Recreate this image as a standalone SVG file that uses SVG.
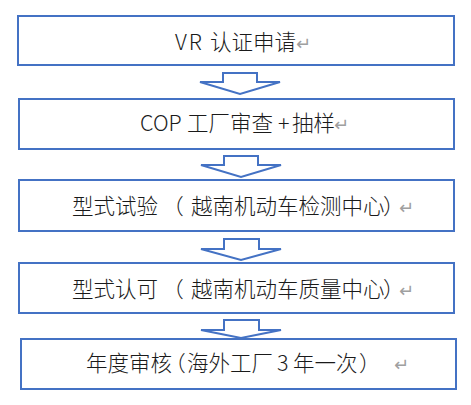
<svg xmlns="http://www.w3.org/2000/svg" width="471" height="405" viewBox="0 0 471 405">
<style>
.box{fill:#fff;stroke:#4472C4;stroke-width:2}
.arr{fill:#fff;stroke:#4472C4;stroke-width:2;stroke-linejoin:miter}
.t{font-family:"Noto Sans CJK SC","Noto Sans",sans-serif;font-size:21.5px;font-weight:300;fill:#1a1a1a}
.p{font-feature-settings:"halt"}
.rm{font-family:"DejaVu Sans",sans-serif;fill:#a0a0a0;font-size:18px;font-weight:400}
</style>
<rect width="471" height="405" fill="#fff"/>
<g id="connectors">
<polygon class="arr" points="223,73 257,73 257,82 280,82 240,94 200,82 223,82"/>
<polygon class="arr" points="224,156 258,156 258,165 281,165 241,177 201,165 224,165"/>
<polygon class="arr" points="224,239 259,239 259,249 281,249 241,260 201,249 224,249"/>
<polygon class="arr" points="224,320 259,320 259,330 281,330 241,338 201,330 224,330"/>
</g>
<g id="n1"><rect class="box" x="18" y="16" width="436" height="49"/>
<text class="t" y="50"><tspan x="175" letter-spacing="2">VR</tspan><tspan x="210">认证申请</tspan><tspan class="rm" x="296">↵</tspan></text></g>
<g id="n2"><rect class="box" x="19" y="99" width="435" height="50"/>
<text class="t" y="131"><tspan x="140">COP</tspan><tspan x="187">工厂审查</tspan><tspan x="278">+</tspan><tspan x="292">抽样</tspan><tspan class="rm" x="334">↵</tspan></text></g>
<g id="n3"><rect class="box" x="19" y="180" width="435" height="51"/>
<text class="t" y="214"><tspan x="72">型式试验</tspan><tspan class="p" x="173">（</tspan><tspan x="191">越南机动车检测中心</tspan><tspan class="p" x="383">）</tspan><tspan class="rm" x="399">↵</tspan></text></g>
<g id="n4"><rect class="box" x="19" y="263" width="435" height="50"/>
<text class="t" y="297"><tspan x="72">型式认可</tspan><tspan class="p" x="173">（</tspan><tspan x="191">越南机动车质量中心</tspan><tspan class="p" x="383">）</tspan><tspan class="rm" x="399">↵</tspan></text></g>
<g id="n5"><rect class="box" x="21" y="339" width="435" height="50"/>
<text class="t" y="371"><tspan x="86">年度审核</tspan><tspan class="p" x="175">（</tspan><tspan x="187">海外工厂</tspan><tspan x="277">3</tspan><tspan x="293">年一次</tspan><tspan class="p" x="359">）</tspan><tspan class="rm" x="394">↵</tspan></text></g>
</svg>
